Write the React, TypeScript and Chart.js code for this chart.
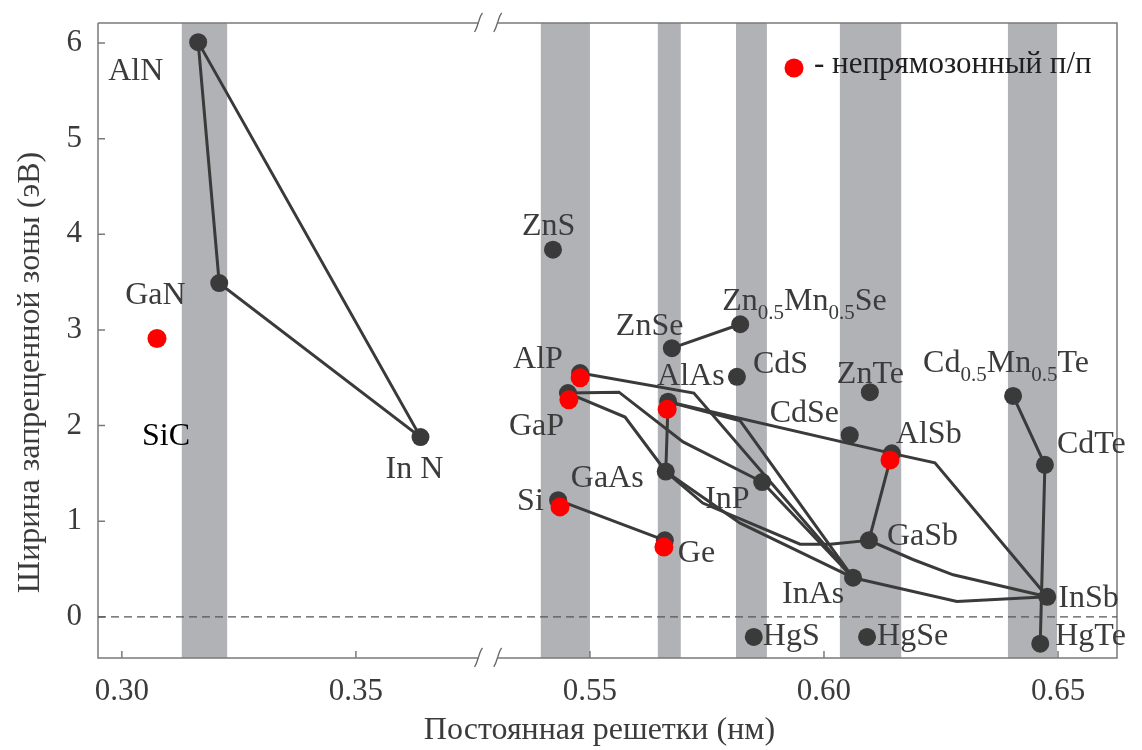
import React, { useEffect, useRef } from "react";
import { Chart, registerables } from "chart.js";

Chart.register(...registerables);

// ---------------- data ----------------
const compoundNames = [
  "AlN", "GaN", "In N", "ZnS", "ZnSe", "Zn0.5Mn0.5Se", "AlP", "GaP", "AlAs", "CdS",
  "ZnTe", "CdSe", "AlSb", "Cd0.5Mn0.5Te", "CdTe", "GaAs", "InP", "Si", "Ge", "GaSb",
  "InAs", "InSb", "HgS", "HgSe", "HgTe",
];
const latticeConst = [
  0.3163, 0.3208, 0.3638, 0.5421, 0.5675, 0.5821, 0.5479, 0.5453, 0.5667, 0.5814,
  0.6098, 0.6055, 0.6145, 0.6404, 0.6472, 0.5662, 0.5868, 0.5432, 0.566, 0.6096,
  0.6062, 0.6477, 0.585, 0.6092, 0.6462,
];
const bandGap = [
  6.01, 3.49, 1.88, 3.84, 2.81, 3.06, 2.55, 2.34, 2.25, 2.51,
  2.35, 1.9, 1.71, 2.31, 1.59, 1.52, 1.41, 1.22, 0.8, 0.8,
  0.41, 0.21, -0.21, -0.21, -0.28,
];

// indirect-gap semiconductors (red markers)
const indirectNames = ["SiC", "AlP", "GaP", "AlAs", "AlSb", "Si", "Ge"];
const indirectLattice = [0.3075, 0.5479, 0.5455, 0.5665, 0.6141, 0.5436, 0.5658];
const indirectGap = [2.91, 2.5, 2.27, 2.17, 1.64, 1.15, 0.73];

// alloy curves [lattice, gap]
const curveNitrides: [number, number][] = [[0.3163, 6.01], [0.3208, 3.49], [0.3638, 1.88], [0.3163, 6.01]];
const curveZnSeMnSe: [number, number][] = [[0.5675, 2.81], [0.5821, 3.06]];
const curveSiGe: [number, number][] = [[0.5432, 1.22], [0.566, 0.8]];
const curveCdMnTe: [number, number][] = [[0.6404, 2.31], [0.6472, 1.59], [0.6462, -0.28]];
const curveAlAsGaAs: [number, number][] = [[0.5667, 2.25], [0.5662, 1.52]];
const curveAlSbGaSb: [number, number][] = [[0.6145, 1.71], [0.6096, 0.8]];
const curveAlPInAs: [number, number][] = [[0.5479, 2.55], [0.5722, 2.34], [0.6062, 0.41]];
const curveGaPInP: [number, number][] = [[0.5453, 2.34], [0.5562, 2.35], [0.5699, 1.83], [0.5868, 1.41]];
const curveGaPGaAs: [number, number][] = [[0.5453, 2.34], [0.5575, 2.09], [0.5662, 1.52]];
const curveAlAsAlSb: [number, number][] = [[0.5667, 2.25], [0.6145, 1.71]];
const curveAlAsInAs: [number, number][] = [[0.5667, 2.25], [0.5821, 2.05], [0.6062, 0.41]];
const curveInPInAs: [number, number][] = [[0.5868, 1.41], [0.6062, 0.41]];
const curveGaAsGaSb: [number, number][] = [[0.5662, 1.52], [0.5741, 1.19], [0.5949, 0.76], [0.6013, 0.76], [0.6096, 0.8]];
const curveGaAsInAs: [number, number][] = [[0.5662, 1.52], [0.5821, 0.98], [0.6062, 0.41]];
const curveAlSbInSb: [number, number][] = [[0.6145, 1.71], [0.6237, 1.61], [0.6477, 0.21]];
const curveGaSbInSb: [number, number][] = [[0.6096, 0.8], [0.619, 0.6], [0.6276, 0.44], [0.6477, 0.21]];
const curveInAsInSb: [number, number][] = [[0.6062, 0.41], [0.6284, 0.16], [0.6477, 0.21]];

const curves = [
  curveNitrides, curveZnSeMnSe, curveSiGe, curveCdMnTe, curveAlAsGaAs, curveAlSbGaSb,
  curveAlPInAs, curveGaPInP, curveGaPGaAs, curveAlAsAlSb, curveAlAsInAs, curveInPInAs,
  curveGaAsGaSb, curveGaAsInAs, curveAlSbInSb, curveGaSbInSb, curveInAsInSb,
];

// grey substrate bands (lattice ranges)
const bandStart = [0.3128, 0.5395, 0.5645, 0.5812, 0.6034, 0.6393];
const bandEnd = [0.3225, 0.55, 0.5694, 0.5878, 0.6165, 0.6498];

// axes
const xTickValues = [0.3, 0.35, 0.55, 0.6, 0.65];
const yTickValues = [0, 1, 2, 3, 4, 5, 6];
const X_MIN = 0.2949;
const X_MAX = 0.6626;
const Y_MIN = -0.43;
const Y_MAX = 6.21;
const LEFT_END = 0.3762; // end of left axis segment
const RIGHT_START = 0.5303; // start of right axis segment
const BREAK_SHIFT = 0.15; // shift applied to the right segment

const xTitle = "Постоянная решетки (нм)";
const yTitle = "Ширина запрещенной зоны (эВ)";
const legendText = "- непрямозонный п/п";

// ---------------- helpers / styles ----------------
const toAxis = (v: number) => (v > 0.45 ? v - BREAK_SHIFT : v);
const fromAxis = (v: number) => (v > 0.378 ? v + BREAK_SHIFT : v);

const FONT = '"Liberation Serif", "Times New Roman", serif';
const TEXT = "#3b3b3b";
const DARK = "#3a3a3a";
const RED = "#ff0000";
const BAND = "#b1b2b6";
const AXIS = "#7a7a7a";

// label placement: [dx, dy] in pixels from the point to text left / baseline
const labelOffsets: Record<string, [number, number]> = {
  AlN: [-90, 38], GaN: [-94, 21], "In N": [-35, 41], ZnS: [-31, -15], ZnSe: [-56, -13],
  "Zn0.5Mn0.5Se": [-18, -14], AlP: [-67, -5], GaP: [-59, 42], AlAs: [-11, -17], CdS: [16, -4],
  ZnTe: [-33, -9], CdSe: [-80, -13], AlSb: [4, -10], "Cd0.5Mn0.5Te": [-90, -24], CdTe: [12, -12],
  GaAs: [-95, 15], InP: [-57, 26], Si: [-41, 10], Ge: [13, 22], GaSb: [18, 5],
  InAs: [-71, 25], InSb: [11, 10], HgS: [9, 8], HgSe: [10, 8], HgTe: [15, 1],
};
const sicOffset: [number, number] = [-15, 106];

function drawRich(ctx: CanvasRenderingContext2D, text: string, x: number, y: number, size: number) {
  const parts = text.split(/(\d+\.\d+)/).filter((p) => p.length > 0);
  let cx = x;
  for (const p of parts) {
    const sub = /^\d+\.\d+$/.test(p);
    ctx.font = `${sub ? Math.round(size * 0.66) : size}px ${FONT}`;
    ctx.fillText(p, cx, sub ? y + 9 : y);
    cx += ctx.measureText(p).width;
  }
}

function breakMark(ctx: CanvasRenderingContext2D, x: number, y: number) {
  ctx.beginPath();
  ctx.moveTo(x - 4, y + 9);
  ctx.bezierCurveTo(x - 1, y + 4, x - 1, y + 1, x, y - 1);
  ctx.bezierCurveTo(x + 1, y - 4, x + 2, y - 8, x + 4, y - 10);
  ctx.stroke();
}

const overlayPlugin = {
  id: "overlay",
  beforeDatasetsDraw(chart: any) {
    const { ctx, chartArea: a, scales } = chart;
    const xs = scales.x;
    const ys = scales.y;
    ctx.save();
    // bands
    ctx.fillStyle = BAND;
    for (let i = 0; i < bandStart.length; i++) {
      const x0 = xs.getPixelForValue(toAxis(bandStart[i]));
      const x1 = xs.getPixelForValue(toAxis(bandEnd[i]));
      ctx.fillRect(x0, a.top, x1 - x0, a.bottom - a.top);
    }
    // frame with break
    const pL = xs.getPixelForValue(LEFT_END);
    const pR = xs.getPixelForValue(toAxis(RIGHT_START));
    ctx.strokeStyle = AXIS;
    ctx.lineWidth = 1.5;
    ctx.beginPath();
    ctx.moveTo(a.left, a.top);
    ctx.lineTo(a.left, a.bottom);
    ctx.lineTo(pL, a.bottom);
    ctx.moveTo(pR, a.bottom);
    ctx.lineTo(a.right, a.bottom);
    ctx.lineTo(a.right, a.top);
    ctx.lineTo(pR, a.top);
    ctx.moveTo(pL, a.top);
    ctx.lineTo(a.left, a.top);
    ctx.stroke();
    ctx.lineWidth = 1.3;
    ctx.strokeStyle = "#666";
    breakMark(ctx, pL, a.bottom);
    breakMark(ctx, pR, a.bottom);
    breakMark(ctx, pL, a.top);
    breakMark(ctx, pR, a.top);
    // inner ticks
    ctx.strokeStyle = AXIS;
    ctx.lineWidth = 1.5;
    ctx.beginPath();
    for (const v of xTickValues) {
      const px = xs.getPixelForValue(toAxis(v));
      ctx.moveTo(px, a.bottom);
      ctx.lineTo(px, a.bottom - 7);
    }
    for (const v of yTickValues) {
      const py = ys.getPixelForValue(v);
      ctx.moveTo(a.left, py);
      ctx.lineTo(a.left + 7, py);
    }
    ctx.stroke();
    ctx.restore();
  },
  afterDatasetsDraw(chart: any) {
    const { ctx, chartArea: a, scales } = chart;
    const xs = scales.x;
    const ys = scales.y;
    ctx.save();
    ctx.textBaseline = "alphabetic";
    ctx.textAlign = "left";
    ctx.fillStyle = TEXT;
    for (let i = 0; i < compoundNames.length; i++) {
      const n = compoundNames[i];
      const off = labelOffsets[n] || [10, 0];
      const px = xs.getPixelForValue(toAxis(latticeConst[i]));
      const py = ys.getPixelForValue(bandGap[i]);
      drawRich(ctx, n, px + off[0], py + off[1], 32);
    }
    // SiC label (black)
    ctx.fillStyle = "#000";
    const sx = xs.getPixelForValue(toAxis(indirectLattice[0]));
    const sy = ys.getPixelForValue(indirectGap[0]);
    ctx.font = `32px ${FONT}`;
    ctx.fillText(indirectNames[0], sx + sicOffset[0], sy + sicOffset[1]);
    // legend
    const lx = a.left + 696;
    const ly = a.top + 45;
    ctx.fillStyle = RED;
    ctx.beginPath();
    ctx.arc(lx, ly, 9.5, 0, Math.PI * 2);
    ctx.fill();
    ctx.fillStyle = "#1e1e1e";
    ctx.font = `31px ${FONT}`;
    ctx.fillText(legendText, lx + 20, ly + 5);
    ctx.restore();
  },
};

export default function App() {
  const ref = useRef<HTMLCanvasElement>(null);
  useEffect(() => {
    if (!ref.current) return;
    const datasets: any[] = [];
    datasets.push({
      label: "zero",
      data: [{ x: X_MIN, y: 0 }, { x: toAxis(X_MAX), y: 0 }],
      showLine: true,
      borderColor: "#555",
      borderWidth: 1.3,
      borderDash: [8, 5],
      pointRadius: 0,
      order: 100,
    });
    curves.forEach((c, i) => {
      datasets.push({
        label: "curve" + i,
        data: c.map(([x, y]) => ({ x: toAxis(x), y })),
        showLine: true,
        borderColor: DARK,
        borderWidth: 3,
        pointRadius: 0,
        tension: 0,
        order: 50,
      });
    });
    datasets.push({
      label: "compounds",
      data: latticeConst.map((x, i) => ({ x: toAxis(x), y: bandGap[i] })),
      showLine: false,
      pointRadius: 9,
      pointBackgroundColor: DARK,
      pointBorderWidth: 0,
      order: 20,
    });
    datasets.push({
      label: "indirect",
      data: indirectLattice.map((x, i) => ({ x: toAxis(x), y: indirectGap[i] })),
      showLine: false,
      pointRadius: 9.5,
      pointBackgroundColor: RED,
      pointBorderWidth: 0,
      order: 10,
    });

    const chart = new Chart(ref.current, {
      type: "scatter",
      data: { datasets },
      options: {
        responsive: false,
        animation: false,
        events: [],
        layout: { padding: { left: 0, top: 23, right: 25, bottom: 0 } },
        plugins: { legend: { display: false }, tooltip: { enabled: false } },
        scales: {
          x: {
            type: "linear",
            min: X_MIN,
            max: toAxis(X_MAX),
            grid: { display: false, drawTicks: false },
            border: { display: false },
            afterBuildTicks: (s: any) => {
              s.ticks = xTickValues.map((v) => ({ value: toAxis(v) }));
            },
            afterFit: (s: any) => {
              s.height = 92;
              s.paddingLeft = 0;
              s.paddingRight = 0;
            },
            ticks: {
              autoSkip: false,
              maxRotation: 0,
              padding: 15,
              color: TEXT,
              font: { family: FONT, size: 31 },
              callback: (v: any) => fromAxis(Number(v)).toFixed(2),
            },
            title: {
              display: true,
              text: xTitle + "\u00a0\u00a0",
              color: TEXT,
              font: { family: FONT, size: 32 },
              padding: { top: 0, bottom: 0 },
            },
          },
          y: {
            type: "linear",
            min: Y_MIN,
            max: Y_MAX,
            grid: { display: false, drawTicks: false },
            border: { display: false },
            afterBuildTicks: (s: any) => {
              s.ticks = yTickValues.map((v) => ({ value: v }));
            },
            afterFit: (s: any) => {
              s.width = 98;
              s.paddingTop = 0;
              s.paddingBottom = 0;
            },
            ticks: {
              padding: 16,
              color: TEXT,
              font: { family: FONT, size: 31 },
              callback: (v: any) => String(v),
            },
            title: {
              display: true,
              text: yTitle + "\u00a0\u00a0\u00a0\u00a0\u00a0\u00a0\u00a0\u00a0",
              color: TEXT,
              font: { family: FONT, size: 32 },
              padding: { top: 11, bottom: 0 },
            },
          },
        },
      },
      plugins: [overlayPlugin],
    } as any);
    return () => chart.destroy();
  }, []);

  return (
    <div style={{ position: "absolute", left: 0, top: 0, width: 1142, height: 750, background: "#fff" }}>
      <canvas ref={ref} width={1142} height={750} style={{ display: "block" }} />
    </div>
  );
}
